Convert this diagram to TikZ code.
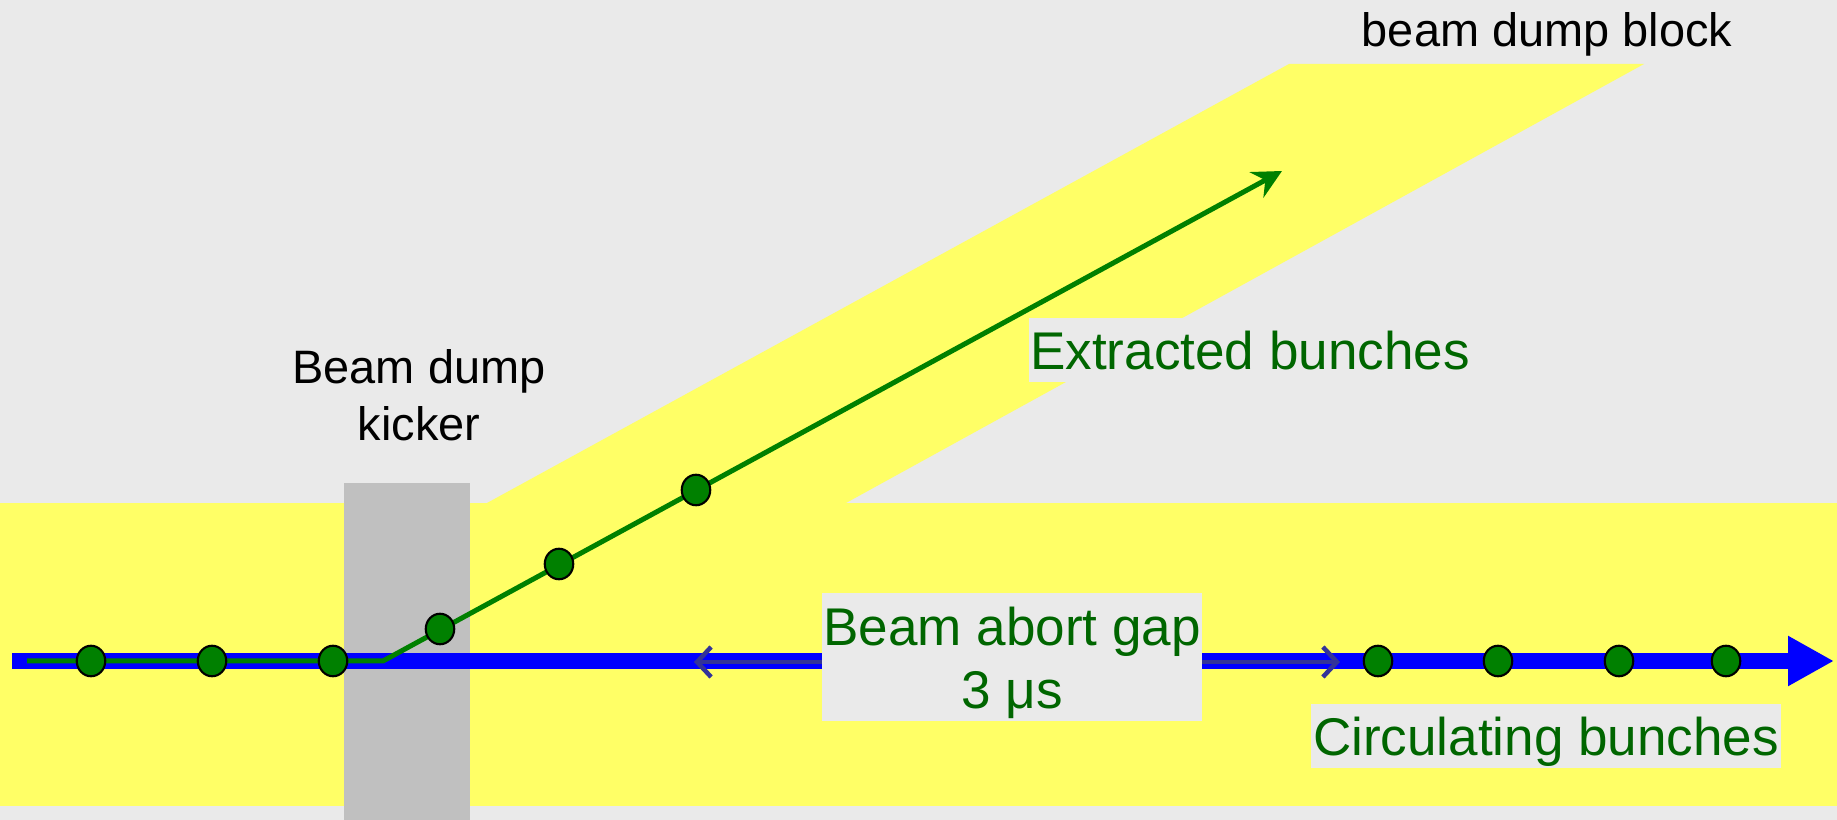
\documentclass[tikz,border=0pt]{standalone}
\usepackage{fontspec}
\setmainfont{Liberation Sans}
\usetikzlibrary{arrows.meta,shapes.geometric}

\definecolor{bggray}{HTML}{EAEAEA}
\definecolor{bandyellow}{HTML}{FFFF66}
\definecolor{kickergray}{HTML}{C0C0C0}
\definecolor{beamblue}{HTML}{0000FF}
\definecolor{bunchgreen}{HTML}{008000}
\definecolor{textgreen}{HTML}{006600}
\definecolor{gapblue}{HTML}{333399}

\begin{document}
\begin{tikzpicture}[x=0.02cm,y=-0.02cm,
		bunch/.style={ellipse,draw=black,line width=1.2pt,fill=bunchgreen,minimum width=0.57cm,minimum height=0.61cm,inner sep=0pt},
		greenlbl/.style={fill=bggray,text=textgreen,font=\fontsize{30.2}{35.8}\selectfont,text depth=0pt,inner xsep=1pt,inner ysep=0.254cm},
		blacklbl/.style={text=black,font=\fontsize{26.7}{32.4}\selectfont,align=center,inner sep=0pt}]
			\useasboundingbox (0,0) rectangle (1837,820);
			\fill[bggray] (0,0) rectangle (1837,820);
			
			% yellow areas and kicker
			\fill[bandyellow] (0,503) rectangle (1837,806);
			\fill[bandyellow] (487,503) -- (1289,64) -- (1644,64) -- (846,503) -- cycle;
			\fill[kickergray] (344,483) rectangle (470,820);
			
			\coordinate (beamstart) at (12,661);
			\coordinate (beamend) at (1834,661);
			\coordinate (gapleft) at (694,662);
			\coordinate (gapright) at (1340,662);
			\coordinate (greenstart) at (27,661);
			\coordinate (kick) at (383,661);
			\coordinate (dumptip) at (1282,171);
			
			\draw[beamblue,line width=0.32cm,-{Triangle[length=0.92cm,width=0.94cm]}] (beamstart) -- (beamend);
			\draw[gapblue,line width=0.09cm,{Straight Barb[length=0.28cm,width=0.6cm]}-{Straight Barb[length=0.28cm,width=0.6cm]}] (gapleft) -- (gapright);
			\draw[bunchgreen,line width=0.1cm,-{Stealth[length=0.58cm,width=0.58cm,inset=0.2cm]}] (greenstart) -- (kick) -- (dumptip);
			
			% bunches
			\node[bunch] (b1) at (91,661) {};
			\node[bunch] (b2) at (212,661) {};
			\node[bunch] (b3) at (333,661) {};
			\node[bunch] (e1) at (440,629) {};
			\node[bunch] (e2) at (559,564) {};
			\node[bunch] (e3) at (696,490) {};
			\node[bunch] (c1) at (1378,661) {};
			\node[bunch] (c2) at (1498,661) {};
			\node[bunch] (c3) at (1619,661) {};
			\node[bunch] (c4) at (1726,661) {};
			
			% labels
			\node[fill=bggray,minimum width=7.6cm,minimum height=2.56cm,inner sep=0pt] (gapbox) at (1012,657) {};
			\node[text=textgreen,font=\fontsize{30.2}{35.8}\selectfont,align=center,inner sep=0pt] (gaplbl) at (1012,663) {Beam abort gap\\3 μs};
			\node[greenlbl] (extracted) at (1250,350) {Extracted bunches};
			\node[greenlbl] (circulating) at (1546,736) {Circulating bunches};
			\node[blacklbl] (kicker) at (419,395) {Beam dump\\kicker};
			\node[blacklbl,anchor=base] (block) at (1547,47) {beam dump block};
		\end{tikzpicture}
\end{document}
